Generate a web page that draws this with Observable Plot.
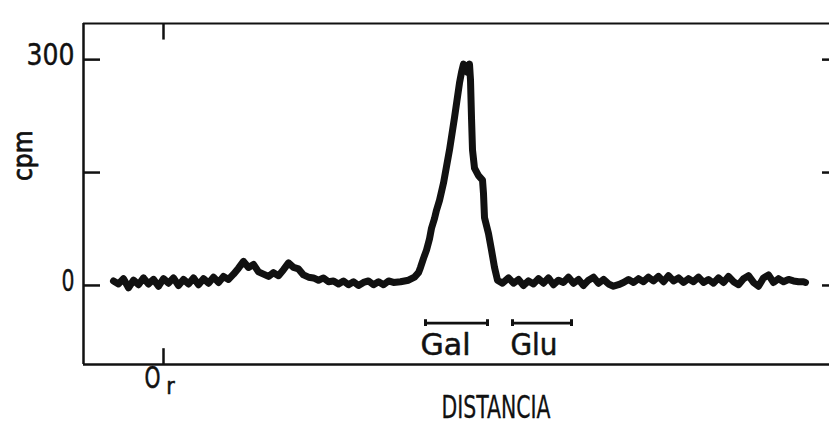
<!DOCTYPE html>
<html><head><meta charset="utf-8">
<script src="https://cdn.jsdelivr.net/npm/d3@7"></script>
<script src="https://cdn.jsdelivr.net/npm/@observablehq/plot@0.6"></script>
<style>
body{margin:0;background:#fff}
</style>
</head><body><div id="chart"></div>
<script>
// Radiochromatogram scan: distance from origin (arbitrary units, origin O_r = 0) vs cpm
const distance = [
  -5.0,-4.5,-4.0,-3.5,-3.0,-2.5,-2.0,-1.5,-1.0,-0.5,
  0.0,0.5,1.0,1.5,2.0,2.5,3.0,3.5,4.0,4.5,
  5.0,5.5,6.0,6.5,7.0,7.5,8.0,8.5,9.0,9.5,
  10.0,10.5,11.0,11.5,12.0,12.5,13.0,13.5,14.0,14.5,
  15.0,15.5,16.0,16.5,17.0,17.5,18.0,18.5,19.0,19.5,
  20.0,20.5,21.0,21.5,22.0,22.5,23.0,
  23.7,24.5,25.1,25.5,25.7,26.0,26.3,26.6,26.8,27.1,
  27.3,27.6,28.0,28.6,29.1,29.6,29.8,30.0,30.2,30.4,
  30.6,30.7,30.8,30.9,31.1,31.5,31.9,32.0,32.1,32.5,
  32.8,33.1,33.4,33.9,
  34.5,35.0,35.5,36.0,36.5,37.0,37.5,38.0,38.5,39.0,
  39.5,40.0,40.5,41.0,41.5,42.0,42.5,43.0,43.5,44.0,
  44.5,45.0,45.5,46.0,46.5,47.0,47.5,48.0,48.5,49.0,
  49.5,50.0,50.5,51.0,51.5,52.0,52.5,53.0,53.5,54.0,
  54.5,55.0,55.5,56.0,56.5,57.0,57.5,58.0,58.5,59.0,
  59.5,60.0,60.5,61.0,61.5,62.0,62.5,63.0,63.5,64.0,64.2
];
const cpm = [
  6,2,9,-3,7,1,10,2,8,-1,
  9,3,10,0,8,2,10,1,9,3,
  11,4,12,8,15,23,32,24,28,18,
  15,12,17,13,21,30,24,22,14,11,
  10,7,10,5,6,2,6,1,5,0,
  4,6,1,5,1,6,4,
  5,7,11,17,24,36,47,62,76,89,
  100,113,136,180,223,269,283,294,291,283,
  294,273,223,180,156,146,140,122,90,69,
  47,24,7,3,
  10,3,8,0,6,2,9,3,10,1,
  7,4,11,3,8,0,7,11,3,8,
  2,-1,1,4,8,4,9,5,11,6,
  12,5,13,6,10,4,9,5,11,4,
  8,3,10,4,12,5,1,9,13,4,
  -1,10,14,4,9,5,8,6,5,5,4
];

const yTicks = [0, 150, 300];
const yTickLabels = [0, 300];
const originTick = [0];

const markerNames = ["Gal", "Glu"];
const markerStart = [26.2, 34.9];
const markerEnd = [32.4, 40.8];
const markerLabelX = [28.2, 37.05];
const markerLevel = -50;
const markerLabelLevel = -80;

const xDomain = [-8, 66.6];
const yDomain = [-105, 348];

// rendered widths of the narrow hand-lettered labels (px)
const labelWidths = {"300": 48, "0": 13, "Gal": 50, "Glu": 47, "DISTANCIA": 109, "O": 16};

const trace = distance.map((d, i) => ({distance: d, cpm: cpm[i]}));
const markers = markerNames.map((n, i) => ({name: n, x1: markerStart[i], x2: markerEnd[i], lx: markerLabelX[i]}));
const markerEnds = markers.flatMap(m => [m.x1, m.x2]);

const ink = "#111";

const chart = Plot.plot({
  width: 829,
  height: 432,
  marginTop: 23,
  marginBottom: 68,
  marginLeft: 83,
  marginRight: 0,
  x: {domain: xDomain, axis: null},
  y: {domain: yDomain, axis: null},
  style: {fontFamily: "'DejaVu Sans Condensed', 'DejaVu Sans', sans-serif", color: ink, background: "#fff"},
  marks: [
    // frame
    Plot.ruleY([yDomain[1]], {x1: xDomain[0], x2: xDomain[1], stroke: ink, strokeWidth: 2.2}),
    Plot.ruleY([yDomain[0]], {x1: xDomain[0], x2: xDomain[1], stroke: ink, strokeWidth: 2.5}),
    Plot.ruleX([xDomain[0]], {y1: yDomain[0], y2: yDomain[1], stroke: ink, strokeWidth: 2.5}),
    // inward y ticks, left and right
    Plot.ruleY(yTicks, {x1: xDomain[0], x2: xDomain[0] + 1.7, stroke: ink, strokeWidth: 2.5}),
    Plot.ruleY(yTicks, {x1: xDomain[1] - 0.7, x2: xDomain[1], stroke: ink, strokeWidth: 2.5}),
    // origin ticks top and bottom
    Plot.ruleX(originTick, {y1: yDomain[1], y2: yDomain[1] - 22, stroke: ink, strokeWidth: 2.5}),
    Plot.ruleX(originTick, {y1: yDomain[0], y2: yDomain[0] + 21, stroke: ink, strokeWidth: 2.5}),
    // y tick labels
    Plot.text(yTickLabels, {x: xDomain[0], y: d => d, text: d => String(d), textAnchor: "end", dx: -9, dy: -4, fontSize: 30, fill: ink, stroke: ink, strokeWidth: 0.4}),
    // y label
    Plot.text(["cpm"], {frameAnchor: "left", rotate: -90, dx: -60, dy: -13, fontSize: 26, fill: ink, stroke: ink, strokeWidth: 0.8}),
    // trace
    Plot.line(trace, {x: "distance", y: "cpm", stroke: ink, strokeWidth: 7, strokeLinejoin: "round", strokeLinecap: "round"}),
    // standard markers
    Plot.link(markers, {x1: "x1", x2: "x2", y1: () => markerLevel, y2: () => markerLevel, stroke: ink, strokeWidth: 2.6}),
    Plot.ruleX(markerEnds, {y1: markerLevel - 4.5, y2: markerLevel + 4.5, stroke: ink, strokeWidth: 3}),
    Plot.text(markers, {x: "lx", y: () => markerLabelLevel, text: "name", fontSize: 30, fill: ink, stroke: ink, strokeWidth: 0.5}),
    // origin label O_r
    Plot.text(["O"], {x: () => 0, frameAnchor: "bottom", dx: -11, dy: 23, fontSize: 30, fill: ink, stroke: ink, strokeWidth: 0.5}),
    Plot.text(["r"], {x: () => 0, frameAnchor: "bottom", dx: 7, dy: 29, fontSize: 23, fill: ink, stroke: ink, strokeWidth: 0.5}),
    // x label
    Plot.text(["DISTANCIA"], {x: () => 33.25, frameAnchor: "bottom", dy: 53, fontSize: 32, fill: ink, stroke: ink, strokeWidth: 0.3})
  ]
});

// squeeze the narrow hand-lettered labels to their widths in the figure
d3.select(chart).selectAll("text").each(function() {
  const w = labelWidths[this.textContent];
  if (w) d3.select(this).attr("textLength", w).attr("lengthAdjust", "spacingAndGlyphs");
});

document.getElementById("chart").appendChild(chart);
</script>
</body></html>
